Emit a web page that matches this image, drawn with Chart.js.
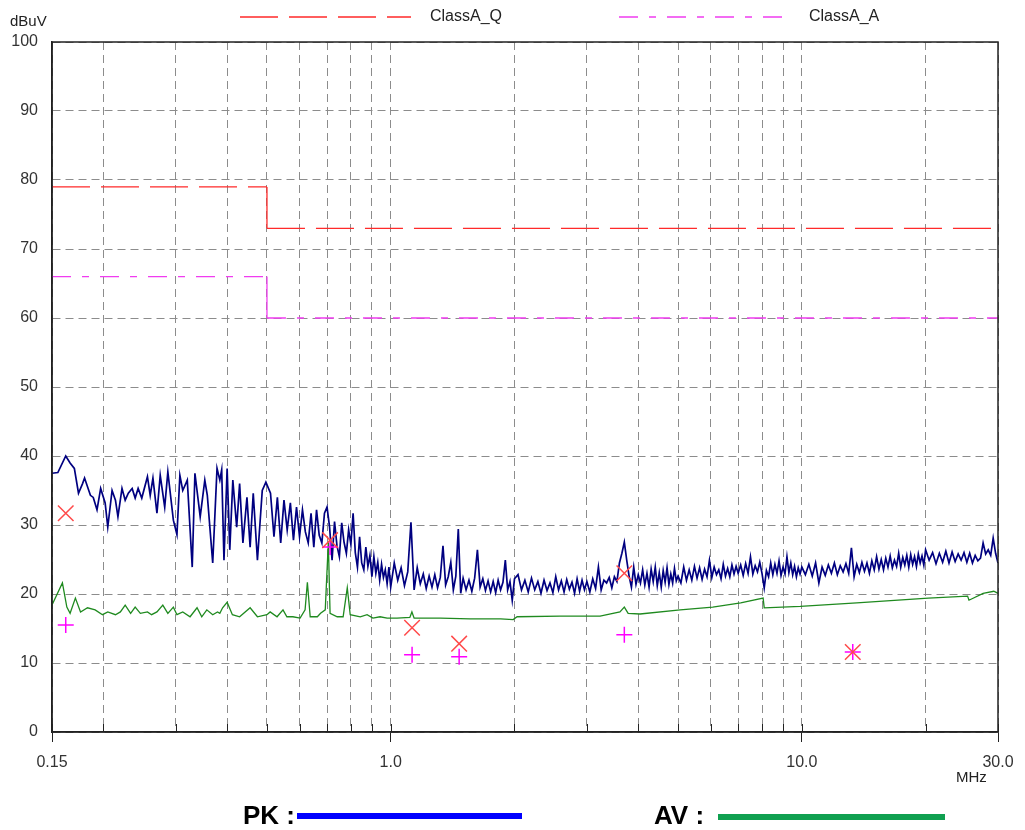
<!DOCTYPE html>
<html>
<head>
<meta charset="utf-8">
<script src="https://cdn.jsdelivr.net/npm/chart.js@4.4.0/dist/chart.umd.min.js"></script>
<style>
  html, body { margin: 0; padding: 0; background: #fff; }
  #wrap { width: 1025px; height: 830px; position: relative; }
</style>
</head>
<body>
<div id="wrap"><canvas id="emiChart" width="1025" height="830"></canvas></div>
<script>
// axis ticks
const xTickValues = [0.15, 0.2, 0.3, 0.4, 0.5, 0.6, 0.7, 0.8, 0.9, 1, 2, 3, 4, 5, 6, 7, 8, 9, 10, 20, 30];
const xLabelValues = [0.15, 1, 10, 30];
const xLabelTexts = ['0.15', '1.0', '10.0', '30.0'];
const yTickValues = [0, 10, 20, 30, 40, 50, 60, 70, 80, 90, 100];

// limit lines
const limitQFreq = [0.15, 0.5, 0.5, 30];
const limitQLevel = [79, 79, 73, 73];
const limitAFreq = [0.15, 0.5, 0.5, 30];
const limitALevel = [66, 66, 60, 60];

// peak trace, 0.15 - 0.5 MHz
const pkFreqA = [
  0.150, 0.155, 0.162, 0.166, 0.170, 0.174, 0.178, 0.180, 0.186, 0.189,
  0.193, 0.197, 0.202, 0.205, 0.210, 0.214, 0.217, 0.222, 0.226, 0.230,
  0.235, 0.239, 0.243, 0.248, 0.256, 0.260, 0.264, 0.270, 0.275, 0.282,
  0.287, 0.296, 0.302, 0.307, 0.312, 0.320, 0.329, 0.334, 0.344, 0.353,
  0.358, 0.369, 0.378, 0.384, 0.388, 0.393, 0.400, 0.406, 0.413, 0.422,
  0.429, 0.437, 0.447, 0.455, 0.463, 0.474, 0.487, 0.497
];
const pkLevelA = [
  37.5, 37.6, 40.0, 39.0, 38.2, 34.6, 36.0, 36.8, 34.3, 34.0,
  32.2, 35.3, 33.2, 29.7, 35.0, 33.6, 31.2, 35.3, 33.6, 34.6,
  35.3, 33.9, 35.3, 33.9, 37.0, 34.3, 36.8, 31.7, 37.2, 32.6,
  37.7, 30.7, 28.6, 37.2, 35.0, 36.5, 23.9, 37.5, 31.2, 36.5,
  34.3, 24.5, 38.2, 36.5, 38.0, 24.9, 38.2, 26.4, 36.5, 29.7,
  36.0, 27.4, 34.0, 26.8, 34.6, 24.9, 35.0, 36.2
];

// peak trace, 0.5 - 1 MHz
const pkFreqB = [
  0.51, 0.52, 0.53, 0.54, 0.55, 0.56, 0.57, 0.58, 0.59, 0.60,
  0.61, 0.62, 0.63, 0.64, 0.65, 0.66, 0.67, 0.68, 0.69, 0.70,
  0.71, 0.72, 0.73, 0.74, 0.75, 0.76, 0.77, 0.78, 0.79, 0.80,
  0.81, 0.82, 0.83, 0.84, 0.85, 0.86, 0.87, 0.88, 0.89, 0.90,
  0.91, 0.92, 0.93, 0.94, 0.95, 0.96, 0.97, 0.98, 0.99, 1.00
];
const pkLevelB = [
  34.6, 28.3, 34.0, 27.4, 33.6, 29.3, 33.2, 27.8, 32.6, 28.3,
  32.2, 29.0, 27.4, 31.7, 26.8, 32.2, 28.5, 27.4, 31.7, 32.6,
  29.7, 24.9, 30.5, 27.0, 25.4, 30.3, 27.5, 25.9, 29.3, 27.2,
  31.7, 26.0, 23.9, 28.3, 24.5, 23.5, 26.8, 24.0, 25.6, 22.5,
  25.4, 23.0, 24.6, 22.0, 24.3, 22.4, 23.5, 21.5, 23.9, 21.0
];

// peak trace, 1 - 5 MHz
const pkFreqC = [
  1.02, 1.04, 1.06, 1.08, 1.10, 1.12, 1.14, 1.16, 1.18, 1.20,
  1.22, 1.24, 1.26, 1.28, 1.30, 1.32, 1.34, 1.36, 1.38, 1.40,
  1.42, 1.44, 1.46, 1.48, 1.50,
  1.525, 1.55, 1.575, 1.60, 1.625, 1.65, 1.675, 1.70, 1.725, 1.75,
  1.775, 1.80, 1.825, 1.85, 1.875, 1.90, 1.925, 1.95, 1.975, 2.00,
  2.04, 2.08, 2.12, 2.16, 2.20, 2.24, 2.28, 2.32, 2.36, 2.40,
  2.44, 2.48, 2.52, 2.56, 2.60, 2.64, 2.68, 2.72, 2.76, 2.80,
  2.84, 2.88, 2.92, 2.96, 3.00,
  3.05, 3.10, 3.15, 3.20, 3.25, 3.30, 3.35, 3.40, 3.45, 3.50,
  3.55, 3.60, 3.65, 3.70, 3.75, 3.80, 3.85, 3.90, 3.95, 4.00,
  4.05, 4.10, 4.15, 4.20, 4.25, 4.30, 4.35, 4.40, 4.45, 4.50,
  4.55, 4.60, 4.65, 4.70, 4.75, 4.80, 4.85, 4.90, 4.95, 5.00
];
const pkLevelC = [
  24.5, 22.0, 23.8, 21.2, 23.2, 30.4, 20.6, 23.8, 21.5, 22.9,
  20.8, 22.6, 21.0, 22.8, 20.9, 22.4, 27.0, 21.3, 22.5, 24.6,
  20.6, 22.6, 29.4, 20.1, 22.3,
  20.6, 22.0, 20.4, 22.3, 26.4, 21.0, 22.2, 20.5, 21.9, 20.3,
  21.8, 20.2, 22.0, 20.6, 21.7, 24.9, 20.6, 21.8, 19.1, 22.2,
  22.8, 20.6, 22.0, 20.3, 22.3, 20.6, 21.8, 20.1, 22.0, 20.5,
  21.6, 20.2, 22.5, 20.6, 21.9, 20.3, 22.1, 20.7, 21.7, 20.1,
  22.2, 20.4, 22.0, 20.6, 21.8,
  20.3, 22.2, 20.8, 23.9, 20.6, 22.0, 21.6, 22.4, 20.9, 22.5,
  21.8, 24.5, 25.9, 27.5, 24.9, 22.6, 21.0, 23.9, 21.4, 22.8,
  21.6, 23.5, 21.3, 23.0, 21.0, 23.6, 21.8, 23.9, 21.2, 23.1,
  21.0, 23.4, 21.7, 23.8, 21.4, 22.9, 21.6, 23.7, 21.9, 22.6
];

// peak trace, 5 - 30 MHz
const pkFreqD = [
  5.08, 5.16, 5.24, 5.32, 5.40, 5.48, 5.56, 5.64, 5.72, 5.80,
  5.88, 5.96, 6.04, 6.12, 6.20, 6.28, 6.36, 6.44, 6.52, 6.60,
  6.68, 6.76, 6.84, 6.92, 7.00,
  7.1, 7.2, 7.3, 7.4, 7.5, 7.6, 7.7, 7.8, 7.9, 8.0,
  8.1, 8.2, 8.3, 8.4, 8.5, 8.6, 8.7, 8.8, 8.9, 9.0,
  9.1, 9.2, 9.3, 9.4, 9.5, 9.6, 9.7, 9.8, 9.9, 10.0,
  10.2, 10.4, 10.6, 10.8, 11.0, 11.2, 11.4, 11.6, 11.8, 12.0,
  12.2, 12.4, 12.6, 12.8, 13.0, 13.2, 13.4, 13.6, 13.8, 14.0,
  14.2, 14.4, 14.6, 14.8, 15.0,
  15.2, 15.4, 15.6, 15.8, 16.0, 16.2, 16.4, 16.6, 16.8, 17.0,
  17.2, 17.4, 17.6, 17.8, 18.0, 18.2, 18.4, 18.6, 18.8, 19.0,
  19.2, 19.4, 19.6, 19.8, 20.0,
  20.4, 20.8, 21.2, 21.6, 22.0, 22.4, 22.8, 23.2, 23.6, 24.0,
  24.4, 24.8, 25.2, 25.6, 26.0, 26.4, 26.8, 27.2, 27.6, 28.0,
  28.4, 28.8, 29.2, 29.6, 30.0
];
const pkLevelD = [
  21.6, 23.9, 22.0, 23.5, 22.0, 24.0, 22.3, 23.8, 22.1, 23.6,
  22.5, 24.9, 22.4, 23.9, 22.8, 23.5, 22.2, 24.3, 22.6, 23.7,
  22.5, 24.2, 22.9, 24.0, 23.0,
  24.2, 22.7, 24.4, 23.0, 25.4, 22.9, 24.1, 23.2, 24.6, 23.0,
  20.9, 23.4, 22.5, 24.5, 22.8, 24.3, 23.0, 24.8, 22.7, 23.9,
  22.9, 25.4, 23.1, 24.5, 22.8, 24.0, 22.5, 23.8, 22.9, 23.9,
  22.8, 24.3, 22.6, 24.5, 21.6, 23.9, 22.7, 24.2, 23.0, 24.5,
  22.8, 24.1, 23.2, 24.4, 23.0, 26.7, 22.5, 24.3, 23.1, 24.6,
  23.3, 24.5, 23.0, 24.8, 23.5,
  25.4, 23.6, 25.0, 23.5, 25.2, 23.9, 25.5, 23.8, 24.9, 24.0,
  25.9, 23.9, 25.3, 24.2, 25.6, 23.9, 25.7, 24.3, 25.4, 24.0,
  25.8, 24.5, 25.5, 24.2, 26.4,
  24.9, 26.0, 24.4, 25.9, 24.6, 26.2, 24.5, 26.1, 24.7, 25.8,
  24.9, 26.0, 24.6, 25.9, 24.5, 25.6, 24.8, 25.2, 27.4, 25.8,
  26.4, 25.6, 28.1, 25.9, 24.5
];

// average trace
const avFreq = [
  0.150, 0.159, 0.163, 0.166, 0.171, 0.176, 0.183, 0.191, 0.199, 0.205,
  0.214, 0.220, 0.226, 0.233, 0.239, 0.246, 0.256, 0.262, 0.270, 0.279,
  0.287, 0.296, 0.302, 0.312, 0.325, 0.338, 0.347, 0.357, 0.369, 0.379,
  0.384, 0.390, 0.400, 0.412, 0.429, 0.455, 0.474, 0.500, 0.509, 0.529,
  0.547, 0.559, 0.578, 0.602, 0.619, 0.627, 0.637, 0.663, 0.675, 0.693,
  0.705, 0.712, 0.741, 0.766, 0.784, 0.797, 0.843, 0.876, 0.905, 0.942,
  0.980, 1.036, 1.113, 1.126, 1.140, 1.320, 1.560, 1.850, 1.985, 2.030,
  2.580, 3.230, 3.610, 3.700, 3.780, 4.040, 5.060, 6.070, 7.100, 8.050,
  8.100, 9.910, 13.6, 20.3, 25.3, 25.5, 27.6, 29.3, 30.0
];
const avLevel = [
  18.4, 21.6, 18.1, 17.2, 19.4, 17.4, 18.0, 17.7, 17.0, 17.4,
  17.0, 17.4, 18.4, 17.2, 18.1, 17.2, 17.4, 17.0, 17.4, 18.4,
  17.2, 18.1, 17.0, 17.4, 16.7, 18.0, 16.7, 17.7, 17.0, 17.4,
  17.2, 18.0, 18.8, 17.0, 16.7, 18.0, 16.7, 17.0, 17.4, 16.7,
  17.7, 16.7, 16.7, 16.5, 17.7, 21.7, 16.7, 16.7, 17.2, 17.7,
  27.5, 17.2, 16.7, 16.7, 20.9, 17.0, 16.7, 17.0, 16.5, 16.7,
  16.5, 16.5, 16.6, 17.4, 16.5, 16.5, 16.4, 16.4, 16.3, 16.7,
  16.8, 16.8, 17.4, 18.1, 17.2, 17.1, 17.7, 18.1, 18.7, 19.4,
  18.0, 18.2, 18.7, 19.4, 19.7, 19.1, 20.1, 20.4, 20.1
];

// final measurements
const qpFreq = [0.162, 0.712, 1.127, 1.467, 3.70, 13.3];
const qpLevel = [31.7, 27.8, 15.1, 12.8, 23.0, 11.6];
const avMarkFreq = [0.162, 0.712, 1.127, 1.467, 3.70, 13.3];
const avMarkLevel = [15.5, 26.8, 11.2, 10.9, 14.1, 11.6];

const pkFreq = pkFreqA.concat(pkFreqB, pkFreqC, pkFreqD);
const pkLevel = pkLevelA.concat(pkLevelB, pkLevelC, pkLevelD);

function toPoints(xs, ys) {
    return xs.map(function(x, i) { return { x: x, y: ys[i] }; });
}

function legendLine(ctx, x1, x2, y, color, dash, width) {
    ctx.save();
    ctx.strokeStyle = color;
    ctx.lineWidth = width;
    ctx.setLineDash(dash);
    ctx.beginPath();
    ctx.moveTo(x1, y);
    ctx.lineTo(x2, y);
    ctx.stroke();
    ctx.restore();
}

const decorations = {
    id: 'decorations',
    afterDraw(chart) {
        const ctx = chart.ctx;
        const a = chart.chartArea;
        const xs = chart.scales.x;
        ctx.save();

        // frame round the plot
        ctx.strokeStyle = '#222';
        ctx.lineWidth = 1.5;
        ctx.strokeRect(a.left, a.top, a.right - a.left, a.bottom - a.top);

        // short ticks inside the bottom axis
        ctx.lineWidth = 1;
        xTickValues.forEach(function(v) {
            const px = Math.round(xs.getPixelForValue(v)) + 0.5;
            ctx.beginPath();
            ctx.moveTo(px, a.bottom);
            ctx.lineTo(px, a.bottom - 8);
            ctx.stroke();
        });

        ctx.fillStyle = '#222';
        ctx.font = '15px "Liberation Sans", Arial, sans-serif';
        ctx.textBaseline = 'middle';
        ctx.textAlign = 'left';
        ctx.fillText('dBuV', 10, 22);
        ctx.fillText('MHz', 956, 778);

        // top legend
        legendLine(ctx, 240, 411, 17, '#ff2a2a', [38, 11], 1.3);
        ctx.font = '16px "Liberation Sans", Arial, sans-serif';
        ctx.fillText('ClassA_Q', 430, 17);
        legendLine(ctx, 619, 786, 17, '#f03cf0', [19, 11, 7, 11], 1.3);
        ctx.fillText('ClassA_A', 809, 17);

        // bottom legend
        ctx.fillStyle = '#000';
        ctx.font = 'bold 26px "Liberation Sans", Arial, sans-serif';
        ctx.fillText('PK :', 243, 817);
        ctx.fillText('AV :', 654, 817);
        ctx.fillStyle = '#0000ff';
        ctx.fillRect(297, 813, 225, 6);
        ctx.fillStyle = '#10a050';
        ctx.fillRect(718, 814, 227, 6);

        ctx.restore();
    }
};

const stepDash = function(dash) {
    return function(c) { return c.p0.parsed.x === c.p1.parsed.x ? [] : dash; };
};

new Chart(document.getElementById('emiChart').getContext('2d'), {
    type: 'line',
    data: {
        datasets: [
            {
                label: 'QP',
                data: toPoints(qpFreq, qpLevel),
                showLine: false,
                pointStyle: 'crossRot',
                pointRadius: 11,
                pointBorderColor: '#ff4a4a',
                pointBorderWidth: 1.5
            },
            {
                label: 'AV final',
                data: toPoints(avMarkFreq, avMarkLevel),
                showLine: false,
                pointStyle: 'cross',
                pointRadius: 8,
                pointBorderColor: '#ff00ff',
                pointBorderWidth: 1.5
            },
            {
                label: 'ClassA_Q',
                data: toPoints(limitQFreq, limitQLevel),
                borderColor: '#ff2a2a',
                borderWidth: 1.3,
                borderDash: [38, 11],
                pointRadius: 0,
                segment: { borderDash: stepDash([38, 11]) }
            },
            {
                label: 'ClassA_A',
                data: toPoints(limitAFreq, limitALevel),
                borderColor: '#f03cf0',
                borderWidth: 1.3,
                borderDash: [19, 11, 7, 11],
                pointRadius: 0,
                segment: { borderDash: stepDash([19, 11, 7, 11]) }
            },
            {
                label: 'AV',
                data: toPoints(avFreq, avLevel),
                borderColor: '#1f8a1f',
                borderWidth: 1.3,
                pointRadius: 0,
                tension: 0
            },
            {
                label: 'PK',
                data: toPoints(pkFreq, pkLevel),
                borderColor: '#000080',
                borderWidth: 1.7,
                pointRadius: 0,
                tension: 0
            }
        ]
    },
    options: {
        responsive: false,
        animation: false,
        layout: { padding: { left: 0, top: 42, right: 27, bottom: 0 } },
        plugins: {
            legend: { display: false },
            tooltip: { enabled: false }
        },
        scales: {
            x: {
                type: 'logarithmic',
                min: 0.15,
                max: 30,
                afterBuildTicks: function(s) { s.ticks = xTickValues.map(function(v) { return { value: v }; }); },
                afterFit: function(s) { s.height = 98; },
                ticks: {
                    autoSkip: false,
                    maxRotation: 0,
                    padding: 11,
                    color: '#333',
                    font: { size: 16, family: '"Liberation Sans", Arial, sans-serif' },
                    callback: function(v) {
                        const i = xLabelValues.indexOf(v);
                        return i >= 0 ? xLabelTexts[i] : '';
                    }
                },
                grid: {
                    color: '#8c8c8c',
                    lineWidth: 1,
                    drawTicks: true,
                    tickLength: 10,
                    tickWidth: 1,
                    tickColor: function(c) {
                        return c.tick && xLabelValues.indexOf(c.tick.value) >= 0 ? '#222' : 'rgba(0,0,0,0)';
                    }
                },
                border: { color: '#222', width: 1.5, dash: [8, 5] }
            },
            y: {
                min: 0,
                max: 100,
                afterBuildTicks: function(s) { s.ticks = yTickValues.map(function(v) { return { value: v }; }); },
                afterFit: function(s) { s.width = 52; },
                ticks: {
                    padding: 14,
                    color: '#333',
                    font: { size: 16, family: '"Liberation Sans", Arial, sans-serif' }
                },
                grid: { color: '#8c8c8c', lineWidth: 1, drawTicks: false },
                border: { color: '#222', width: 1.5, dash: [8, 5] }
            }
        }
    },
    plugins: [decorations]
});
</script>
</body>
</html>
